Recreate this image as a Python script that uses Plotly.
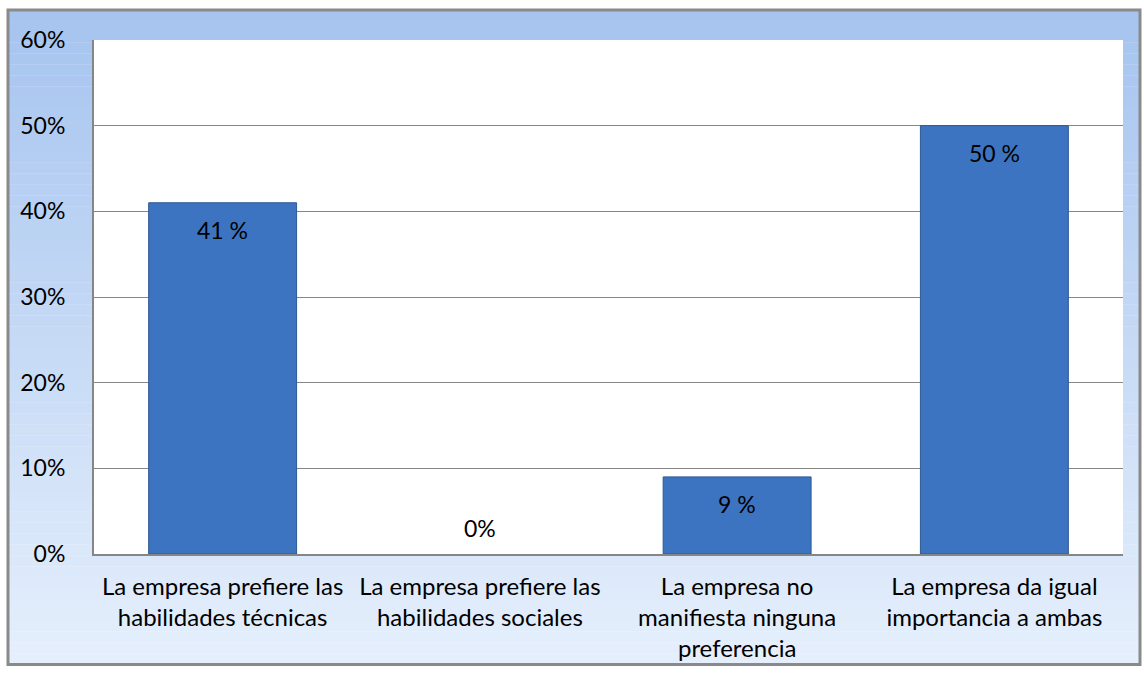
import plotly.graph_objects as go

categories = [
    "La empresa prefiere las<br>habilidades técnicas",
    "La empresa prefiere las<br>habilidades sociales",
    "La empresa no<br>manifiesta ninguna<br>preferencia",
    "La empresa da igual<br>importancia a ambas",
]
values = [0.41, 0.0, 0.09, 0.50]
value_labels = ["41 %", "0%", "9 %", "50 %"]
y_ticks = [0, 0.1, 0.2, 0.3, 0.4, 0.5, 0.6]
y_tick_labels = ["0%", "10%", "20%", "30%", "40%", "50%", "60%"]

FONT = "Lato, Carlito, sans-serif"

fig = go.Figure()
fig.add_trace(go.Bar(
    x=categories, y=values,
    marker=dict(color="#3d74c1",
                line=dict(color="#2d5894", width=[1 if v > 0 else 0 for v in values])),
    width=0.575,
    hoverinfo="skip",
))

for c, v, t in zip(categories, values, value_labels):
    fig.add_annotation(x=c, y=v, text=t, showarrow=False,
                       yshift=-27 if v > 0 else 26,
                       font=dict(family=FONT, size=23, color="#000000"))

# background gradient frame (paper coords)
W, H = 1144, 674
L, R, T, B = 94, 21, 40, 118
pw, ph = W - L - R, H - T - B
def px_to_paper_x(px): return (px - L) / pw
def px_to_paper_y(py): return (H - B - py) / ph

fx0, fx1, fy0, fy1 = 8, 1140, 10, 667
n = 60
c_top = (166, 196, 239)
c_bot = (229, 239, 252)
shapes = []
for i in range(n):
    y0 = fy0 + (fy1 - fy0) * i / n
    y1 = fy0 + (fy1 - fy0) * (i + 1) / n
    f = i / (n - 1)
    col = tuple(round(c_top[k] + (c_bot[k] - c_top[k]) * f) for k in range(3))
    shapes.append(dict(type="rect", xref="paper", yref="paper", layer="below",
                       x0=px_to_paper_x(fx0), x1=px_to_paper_x(fx1),
                       y0=px_to_paper_y(y1), y1=px_to_paper_y(y0) + 0.0005,
                       fillcolor="rgb(%d,%d,%d)" % col, line=dict(width=0)))
shapes.append(dict(type="rect", xref="paper", yref="paper", layer="below",
                   x0=px_to_paper_x(fx0), x1=px_to_paper_x(fx1),
                   y0=px_to_paper_y(fy1), y1=px_to_paper_y(fy0),
                   fillcolor="rgba(0,0,0,0)", line=dict(color="#8a8a8a", width=3)))
shapes.append(dict(type="rect", xref="paper", yref="paper", layer="below",
                   x0=0, x1=1, y0=0, y1=1,
                   fillcolor="#ffffff", line=dict(width=0)))

fig.update_layout(
    width=W, height=H,
    margin=dict(l=L, r=R, t=T, b=B),
    paper_bgcolor="#ffffff",
    plot_bgcolor="#ffffff",
    shapes=shapes,
    showlegend=False,
    font=dict(family=FONT, size=23, color="#000000"),
    bargap=0.425,
)
fig.update_xaxes(
    showline=True, linecolor="#868686", linewidth=2,
    showgrid=False, ticks="", tickfont=dict(family=FONT, size=24),
    ticklabelstandoff=10,
)
fig.update_yaxes(
    range=[0, 0.6], tickvals=y_ticks, ticktext=y_tick_labels,
    showline=True, linecolor="#868686", linewidth=2,
    showgrid=True, gridcolor="#868686", gridwidth=1,
    zeroline=False, ticks="", tickfont=dict(family=FONT, size=23),
    ticklabelstandoff=22,
)

fig.write_html("out.html")
